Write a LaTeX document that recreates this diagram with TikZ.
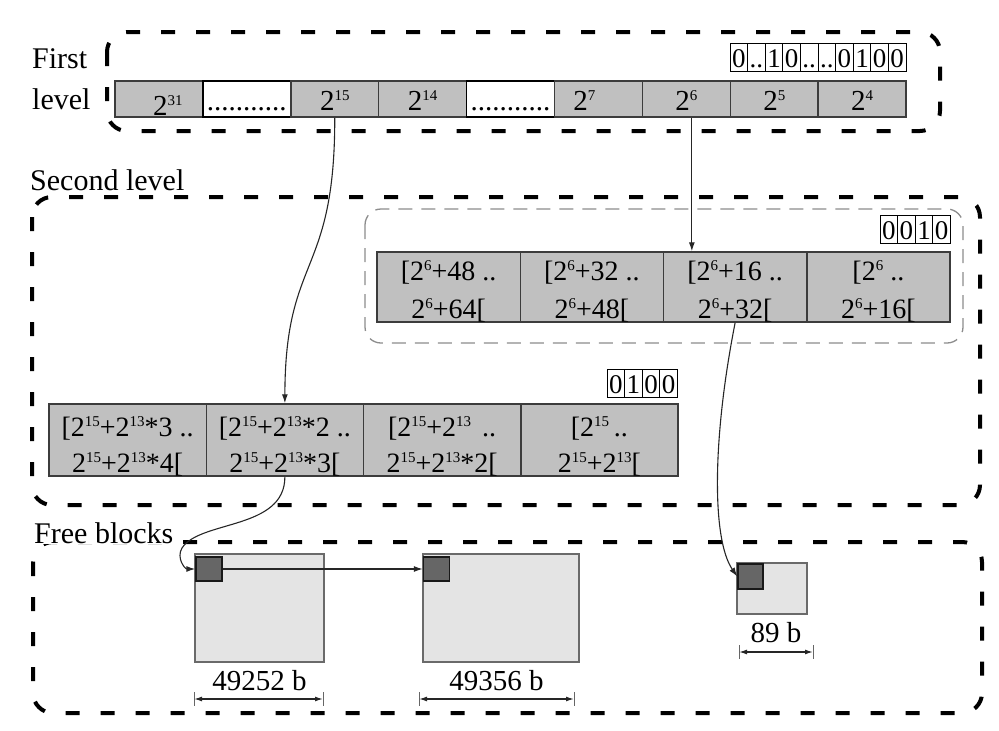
\documentclass[tikz,border=0pt]{standalone}
\usepackage{fontspec}
\setmainfont{Liberation Serif}
\usetikzlibrary{arrows.meta}
\definecolor{cellfill}{HTML}{C0C0C0}
\definecolor{celldraw}{HTML}{3C3C3C}
\definecolor{blockfill}{HTML}{E4E4E4}
\definecolor{blockdraw}{HTML}{6A6A6A}
\definecolor{darkfill}{HTML}{666666}
\newcommand\sups[1]{\raisebox{10pt}{\fontsize{15}{15}\selectfont #1}}
\begin{document}
\begin{tikzpicture}[x=1pt,y=-1pt,
  bigdash/.style={line width=4pt, dash pattern=on 14pt off 21pt, rounded corners=20pt},
  innerdash/.style={line width=1.3pt, draw=black!45, dash pattern=on 14pt off 9pt, rounded corners=16pt},
  fcell/.style={draw=celldraw, line width=1.5pt, fill=cellfill, minimum width=87.9pt, minimum height=36pt, inner sep=0pt, font=\fontsize{29}{35}\selectfont, text height=29pt, text depth=7pt},
  wcell/.style={fcell, fill=white, draw=black},
  icell/.style={draw=celldraw, line width=1.5pt, fill=cellfill, minimum width=143.25pt, minimum height=70pt, inner sep=0pt},
  lcell/.style={icell, minimum width=157.25pt, minimum height=72pt},
  ctext/.style={font=\fontsize{28}{34}\selectfont, inner sep=0pt, anchor=base},
  bit/.style={draw=black, line width=1pt, fill=white, minimum width=17.6pt, minimum height=28pt, inner sep=0pt, font=\fontsize{27}{30}\selectfont, text height=24pt, text depth=4pt},
  lab/.style={font=\fontsize{30}{36}\selectfont, inner sep=0pt, anchor=base west},
  block/.style={draw=blockdraw, line width=1.5pt, fill=blockfill, inner sep=0pt},
  dsq/.style={draw=black!90, line width=1.5pt, fill=darkfill, inner sep=0pt, minimum width=26pt, minimum height=24pt},
  conn/.style={line width=1.1pt, draw=black!85, -{Latex[length=9pt,width=6pt]}},
  dim/.style={line width=1.3pt, draw=black!85, {Latex[length=8pt,width=5pt]}-{Latex[length=8pt,width=5pt]}},
  tick/.style={line width=1pt, draw=black!60},
  dimtext/.style={font=\fontsize{29}{34}\selectfont, inner sep=0pt, anchor=base}
]
\useasboundingbox (0,0) rectangle (999,731);

% dashed containers
\draw[bigdash] (107,32) rectangle (940,131);
\draw[bigdash] (32,197) rectangle (980,505);
\draw[bigdash] (33,542) rectangle (982,713);
\draw[innerdash] (365,209) rectangle (963,343);

% labels
\node[lab] (L1) at (32,68) {First};
\node[lab] (L2) at (32,109) {level};
\node[lab] (L3) at (30,190) {Second level};
\node[lab, fill=white, inner sep=1pt] (L4) at (33,543) {Free blocks};

% first level
\node[fcell, text height=34pt, text depth=2pt] (f1) at (158.95,99) {\hspace*{18pt}2\sups{31}};
\node[wcell] (f2) at (246.85,99) {...........};
\node[fcell] (f3) at (334.75,99) {2\sups{15}};
\node[fcell] (f4) at (422.65,99) {2\sups{14}};
\node[wcell] (f5) at (510.55,99) {...........};
\node[fcell] (f6) at (598.45,99) {2\sups{7}\hspace*{28pt}};
\node[fcell] (f7) at (686.35,99) {2\sups{6}};
\node[fcell] (f8) at (774.25,99) {2\sups{5}};
\node[fcell] (f9) at (862.15,99) {2\sups{4}};
\foreach \t [count=\i] in {0,{..},1,0,{..},{..},0,1,0,0}
  \node[bit] (bA\i) at ({730+17.6*\i-8.8},57) {\t};

% second level, inner table
\node[icell] (s1) at (448.625,287) {};
\node[icell] (s2) at (591.875,287) {};
\node[icell] (s3) at (735.125,287) {};
\node[icell] (s4) at (878.375,287) {};
\node[ctext] (s1a) at (448.6,280) {[2\sups{6}+48 ..};
\node[ctext] (s1b) at (448.6,318) {2\sups{6}+64[};
\node[ctext] (s2a) at (591.9,280) {[2\sups{6}+32 ..};
\node[ctext] (s2b) at (591.9,318) {2\sups{6}+48[};
\node[ctext] (s3a) at (735.1,280) {[2\sups{6}+16 ..};
\node[ctext] (s3b) at (735.1,318) {2\sups{6}+32[};
\node[ctext] (s4a) at (878.4,280) {[2\sups{6} ..};
\node[ctext] (s4b) at (878.4,318) {2\sups{6}+16[};
\foreach \t [count=\i] in {0,0,1,0}
  \node[bit] (bB\i) at ({880+17.6*\i-8.8},229) {\t};

% second level, lower table
\node[lcell] (t1) at (127.625,440) {};
\node[lcell] (t2) at (284.875,440) {};
\node[lcell] (t3) at (442.125,440) {};
\node[lcell] (t4) at (599.375,440) {};
\node[ctext] (t1a) at (127.6,436) {[2\sups{15}+2\sups{13}*3 ..};
\node[ctext] (t1b) at (127.6,472) {2\sups{15}+2\sups{13}*4[};
\node[ctext] (t2a) at (284.9,436) {[2\sups{15}+2\sups{13}*2 ..};
\node[ctext] (t2b) at (284.9,472) {2\sups{15}+2\sups{13}*3[};
\node[ctext] (t3a) at (442.1,436) {[2\sups{15}+2\sups{13}\hspace{11pt}..};
\node[ctext] (t3b) at (442.1,472) {2\sups{15}+2\sups{13}*2[};
\node[ctext] (t4a) at (599.4,436) {[2\sups{15}\,..};
\node[ctext] (t4b) at (599.4,472) {2\sups{15}+2\sups{13}[};
\foreach \t [count=\i] in {0,1,0,0}
  \node[bit] (bC\i) at ({607+17.6*\i-8.8},383) {\t};

% free blocks
\node[block, minimum width=129pt, minimum height=108pt] (b1) at (259.5,608) {};
\node[block, minimum width=156pt, minimum height=108pt] (b2) at (501,608) {};
\node[block, minimum width=70pt, minimum height=51pt] (b3) at (772,588.5) {};
\node[dsq] (d1) at (209,569) {};
\node[dsq] (d2) at (436.5,569) {};
\node[dsq, minimum width=25pt, minimum height=25pt] (d3) at (750.5,576.5) {};

% dimensions
\coordinate (dl1) at (194,699); \coordinate (dr1) at (323,699);
\coordinate (dl2) at (419,699); \coordinate (dr2) at (574,699);
\coordinate (dl3) at (739,652); \coordinate (dr3) at (813,652);
\foreach \c in {dl1,dr1,dl2,dr2,dl3,dr3}
  \draw[tick] ([yshift=7pt]\c) -- ([yshift=-7pt]\c);
\draw[dim] (dl1) -- (dr1);
\draw[dim] (dl2) -- (dr2);
\draw[dim] (dl3) -- (dr3);
\node[dimtext] (n1) at (259.5,690) {49252 b};
\node[dimtext] (n2) at (496.5,690) {49356 b};
\node[dimtext] (n3) at (776,642) {89 b};

% connectors
\coordinate (a2s) at ([xshift=5.5pt]f7.south);
\coordinate (a2e) at (a2s |- s3.north);
\draw[conn] (a2s) -- (a2e);
\draw[conn] (f3.south) .. controls (335,278) and (285,254) .. (t2.north);
\draw[conn] (s3.south) .. controls (712,440) and (712,540) .. (d3.west);
\draw[conn] (t2.south) .. controls (285,530) and (200,520) .. (182,548) .. controls (176,558) and (185,569) .. (d1.west);
\draw[conn] (d1.east) -- (d2.west);
\end{tikzpicture}
\end{document}
